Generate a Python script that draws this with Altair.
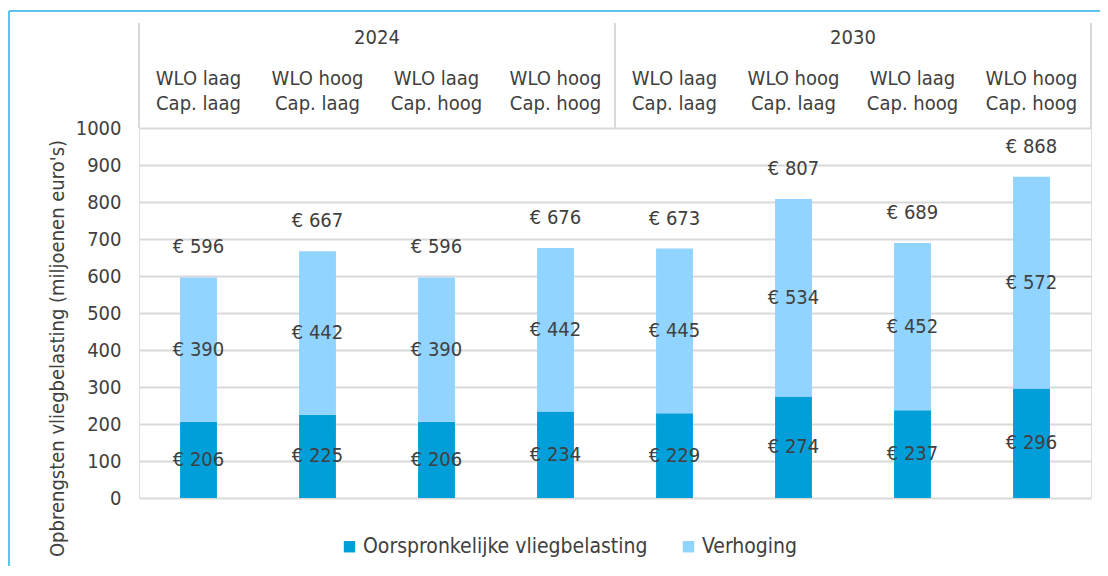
import altair as alt
import pandas as pd

years = ["2024", "2030"]
scenarios = ["WLO laag|Cap. laag", "WLO hoog|Cap. laag", "WLO laag|Cap. hoog", "WLO hoog|Cap. hoog"]
original = [206, 225, 206, 234, 229, 274, 237, 296]
increase = [390, 442, 390, 442, 445, 534, 452, 572]
totals = [596, 667, 596, 676, 673, 807, 689, 868]
series = ["Oorspronkelijke vliegbelasting", "Verhoging"]
colors = ["#009FDA", "#91D4FF"]
y_title = "Opbrengsten vliegbelasting (miljoenen euro's)"

FONT = "DejaVu Sans Condensed, DejaVu Sans"
TXT = "#404040"
GRID = "#D9D9D9"

keys = [f"{y}|{s}" for y in years for s in scenarios]
rows = []
for i, k in enumerate(keys):
    rows.append(dict(key=k, series=series[0], value=original[i], start=0, end=original[i]))
    rows.append(dict(key=k, series=series[1], value=increase[i], start=original[i],
                     end=original[i] + increase[i]))
df = pd.DataFrame(rows)
df["mid"] = (df["start"] + df["end"]) / 2
df["label"] = "€ " + df["value"].astype(str)
tot = pd.DataFrame(dict(key=keys, total=totals, label=[f"€ {t}" for t in totals]))

n = len(keys)
year_df = pd.DataFrame(dict(year=years, pos=[(i + 0.5) * n / len(years) for i in range(len(years))]))
sep_df = pd.DataFrame(dict(pos=[i * n / len(years) for i in range(len(years) + 1)]))

W, H = 952, 370

xaxis = alt.Axis(orient="top", title=None, domain=False, ticks=False, labelAngle=0,
                 labelExpr="slice(split(datum.value, '|'), 1)",
                 labelFontSize=20, labelLineHeight=25, labelPadding=40,
                 labelColor=TXT, labelFont=FONT, labelLimit=300, labelOverlap=False,
                 labelBaseline="bottom")
xscale = alt.Scale(paddingInner=0.69, paddingOuter=0.345)

def xband():
    return alt.X("key:N", sort=keys, scale=xscale, axis=xaxis)

yscale = alt.Scale(domain=[0, 1000], nice=False)
yaxis = alt.Axis(title=y_title, values=list(range(0, 1001, 100)), format="d",
                 grid=True, labelOverlap=False, tickCount=11,
                 gridColor=GRID, gridWidth=2, domain=False, ticks=False,
                 labelFontSize=20, labelPadding=18, labelColor=TXT, labelFont=FONT,
                 titleFontSize=20, titleFontWeight="normal", titleColor=TXT, titleFont=FONT,
                 titleX=-82, titleY=220, titleBaseline="middle", titleLimit=1000)

bars = alt.Chart(df).mark_bar().encode(
    x=xband(),
    y=alt.Y("start:Q", scale=yscale, axis=yaxis, title=y_title),
    y2="end:Q",
    color=alt.Color("series:N", sort=series,
                    scale=alt.Scale(domain=series, range=colors),
                    legend=alt.Legend(title=None, orient="none", direction="horizontal",
                                      legendX=200, legendY=408, symbolType="square",
                                      symbolSize=130, symbolStrokeWidth=0, labelFontSize=21,
                                      labelFont=FONT, labelColor=TXT, columnPadding=30,
                                      labelOffset=3, labelLimit=400)),
)

seg_text = alt.Chart(df).mark_text(fontSize=20, font=FONT, color=TXT, baseline="middle").encode(
    x=xband(), y=alt.Y("mid:Q", scale=yscale, axis=yaxis, title=y_title), text="label:N")

tot_text = alt.Chart(tot).mark_text(fontSize=20, font=FONT, color=TXT, baseline="middle", dy=-30).encode(
    x=xband(), y=alt.Y("total:Q", scale=yscale, axis=yaxis, title=y_title), text="label:N")

main = alt.layer(bars, seg_text, tot_text)

xq = alt.X("pos:Q", scale=alt.Scale(domain=[0, n], nice=False, zero=False), axis=None)
year_text = alt.Chart(year_df).mark_text(fontSize=20, font=FONT, color=TXT, baseline="middle").encode(
    x=xq, y=alt.value(-90), text="year:N")
seps = alt.Chart(sep_df).mark_rule(color=GRID, strokeWidth=2).encode(
    x=xq, y=alt.value(-105), y2=alt.value(0))

frame_top = alt.Chart(sep_df.head(1)).mark_rule(color="#2AB0E6", strokeWidth=1.5).encode(
    x=alt.value(-130), x2=alt.value(W + 20), y=alt.value(-117))
frame_left = alt.Chart(sep_df.head(1)).mark_rule(color="#2AB0E6", strokeWidth=1.5).encode(
    x=alt.value(-130), y=alt.value(-117), y2=alt.value(H + 80))

header = alt.layer(year_text, seps)

chart = alt.layer(main, header, frame_top, frame_left).resolve_scale(x="independent").properties(
    width=W, height=H,
    autosize=alt.AutoSizeParams(type="none"),
    padding={"left": 131, "top": 120, "right": 9, "bottom": 68},
).configure_view(stroke=GRID, strokeWidth=2).configure(background="white")

chart.save("out.html", embed_options={"renderer": "svg", "actions": False})
